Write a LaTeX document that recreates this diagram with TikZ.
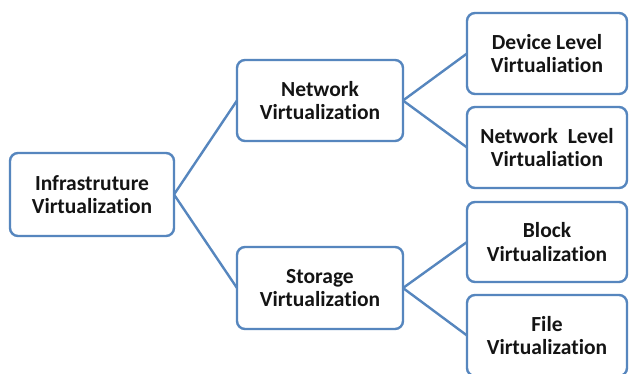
\documentclass[tikz,border=0pt]{standalone}
\usepackage{fontspec}
\setmainfont{Carlito}[Ligatures=NoCommon]
\begin{document}
\begin{tikzpicture}[x=1pt,y=-1pt,
  every node/.style={inner sep=0pt, outer sep=0pt},
  box/.style={draw=boxblue, line width=2.4pt, rounded corners=8pt, fill=white,
    align=center, font=\fontsize{21.5}{23.5}\selectfont\bfseries, text=black!92},
  link/.style={draw=boxblue, line width=2.4pt}]
\definecolor{boxblue}{RGB}{86,134,190}
\useasboundingbox[fill=white] (0,0) rectangle (629,373);
\begin{scope}
\clip (0,0) rectangle (629,373);
\node[box, minimum width=164pt, minimum height=83pt] (infra) at (92,194.5) {Infrastruture\\Virtualization};
\node[box, minimum width=166pt, minimum height=81pt] (netv) at (320,100.5) {Network\\Virtualization};
\node[box, minimum width=166pt, minimum height=82pt] (storv) at (320,288) {Storage\\Virtualization};
\node[box, minimum width=160pt, minimum height=81pt] (dev) at (547,53.5) {Device Level\\Virtualiation};
\node[box, minimum width=160pt, minimum height=81pt] (netl) at (547,147.5) {Network\ \ Level\\Virtualiation};
\node[box, minimum width=160pt, minimum height=80pt] (block) at (547,242) {Block\\Virtualization};
\node[box, minimum width=160pt, minimum height=81pt] (file) at (547,335.5) {File\\Virtualization};
\draw[link] (infra.east) -- (netv.west);
\draw[link] (infra.east) -- (storv.west);
\draw[link] (netv.east) -- (dev.west);
\draw[link] (netv.east) -- (netl.west);
\draw[link] (storv.east) -- (block.west);
\draw[link] (storv.east) -- (file.west);
\end{scope}
\end{tikzpicture}
\end{document}
